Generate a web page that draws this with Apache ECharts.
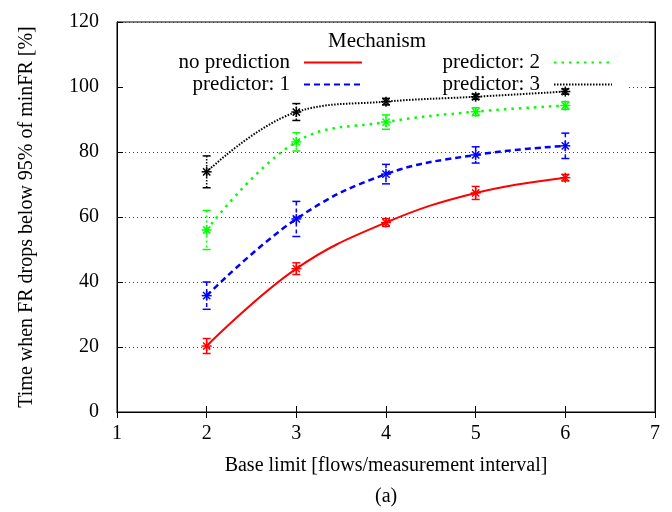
<!DOCTYPE html>
<html>
<head>
<meta charset="utf-8">
<script src="https://cdn.jsdelivr.net/npm/echarts@6/dist/echarts.min.js"></script>
<style>
  html, body { margin: 0; padding: 0; background: #fff; }
  #chart { width: 672px; height: 512px; }
</style>
</head>
<body>
<div id="chart"></div>
<script>
// base limit values on the x axis
var baseLimit = [2, 3, 4, 5, 6];

// mean time (%) per mechanism, and half-length of the error bars
var noPrediction = [20.3, 44.1, 58.3, 67.4, 72.1];
var noPredictionErr = [2.3, 1.8, 1.2, 2.0, 1.0];
var predictor1 = [35.8, 59.4, 73.2, 79.1, 81.9];
var predictor1Err = [4.2, 5.4, 3.0, 2.5, 3.9];
var predictor2 = [56.0, 83.1, 89.2, 92.4, 94.3];
var predictor2Err = [6.0, 2.8, 2.2, 1.2, 1.2];
var predictor3 = [73.9, 92.3, 95.5, 97.0, 98.6];
var predictor3Err = [4.9, 2.6, 1.0, 0.8, 0.8];

var xTicks = [1, 7, 1];     // min, max, step
var yTicks = [0, 120, 20];

var FONT = '"Liberation Serif", "DejaVu Serif", serif';

function pairs(ys) {
  return baseLimit.map(function (x, i) { return [x, ys[i]]; });
}
function triples(ys, es) {
  return baseLimit.map(function (x, i) { return [x, ys[i], es[i]]; });
}

// error bar + "*" marker, gnuplot style
function errRender(color, dash) {
  return function (params, api) {
    var x = api.value(0), y = api.value(1), e = api.value(2);
    var c = api.coord([x, y]);
    var hi = api.coord([x, y + e]);
    var lo = api.coord([x, y - e]);
    var cap = 4, r = 5, d = 3.6;
    var bar = { stroke: color, lineWidth: 1.5, lineDash: dash };
    var mk = { stroke: color, lineWidth: 1.5 };
    return {
      type: 'group',
      children: [
        { type: 'line', shape: { x1: c[0], y1: hi[1], x2: c[0], y2: lo[1] }, style: bar },
        { type: 'line', shape: { x1: c[0] - cap, y1: hi[1], x2: c[0] + cap, y2: hi[1] }, style: mk },
        { type: 'line', shape: { x1: c[0] - cap, y1: lo[1], x2: c[0] + cap, y2: lo[1] }, style: mk },
        { type: 'line', shape: { x1: c[0] - r, y1: c[1], x2: c[0] + r, y2: c[1] }, style: mk },
        { type: 'line', shape: { x1: c[0], y1: c[1] - r, x2: c[0], y2: c[1] + r }, style: mk },
        { type: 'line', shape: { x1: c[0] - d, y1: c[1] - d, x2: c[0] + d, y2: c[1] + d }, style: mk },
        { type: 'line', shape: { x1: c[0] - d, y1: c[1] + d, x2: c[0] + d, y2: c[1] - d }, style: mk }
      ]
    };
  };
}

var chart = echarts.init(document.getElementById('chart'));

var lineSeries = [
  { name: 'no prediction', data: noPrediction, err: noPredictionErr, color: '#ff0000', type: 'solid', dash: null, width: 2 },
  { name: 'predictor: 1', data: predictor1, err: predictor1Err, color: '#0000ff', type: [6, 4], dash: [4, 3], width: 2.5 },
  { name: 'predictor: 2', data: predictor2, err: predictor2Err, color: '#00ff00', type: [2.5, 5], dash: [2, 3], width: 2.5 },
  { name: 'predictor: 3', data: predictor3, err: predictor3Err, color: '#000000', type: [1.5, 1.5], dash: [1.5, 1.5], width: 2 }
];

var series = [];
lineSeries.forEach(function (s) {
  series.push({
    name: s.name,
    type: 'line',
    data: pairs(s.data),
    symbol: 'none',
    smooth: 0.4,
    color: s.color,
    lineStyle: { color: s.color, width: s.width, type: s.type },
    z: 3
  });
});
lineSeries.forEach(function (s) {
  series.push({
    type: 'custom',
    data: triples(s.data, s.err),
    renderItem: errRender(s.color, s.dash),
    encode: { x: 0, y: 1 },
    z: 4
  });
});

var legendBase = {
  orient: 'vertical',
  align: 'right',
  top: 52,
  padding: 0,
  itemWidth: 58,
  itemHeight: 14,
  itemGap: 1,
  selectedMode: false,
  itemStyle: { opacity: 0 },
  textStyle: { fontFamily: FONT, fontSize: 21, color: '#000', lineHeight: 21, padding: [0, 9, 0, 0] }
};

var option = {
  animation: false,
  backgroundColor: '#fff',
  grid: {
    left: 117, right: 17, top: 22, bottom: 100,
    show: true, borderColor: '#000', borderWidth: 1, backgroundColor: 'transparent'
  },
  legend: [
    Object.assign({}, legendBase, { data: ['no prediction', 'predictor: 1'], right: 309 }),
    Object.assign({}, legendBase, { data: ['predictor: 2', 'predictor: 3'], right: 59 })
  ],
  xAxis: [{
    type: 'value',
    min: xTicks[0], max: xTicks[1], interval: xTicks[2],
    name: 'Base limit [flows/measurement interval]',
    nameLocation: 'middle',
    nameGap: 44,
    nameTextStyle: { fontFamily: FONT, fontSize: 20, color: '#000' },
    axisLine: { show: true, lineStyle: { color: '#000', width: 1 } },
    axisTick: { show: true, inside: true, length: 6, lineStyle: { color: '#000' } },
    axisLabel: { fontFamily: FONT, fontSize: 20, color: '#000', margin: 12 },
    splitLine: { show: false }
  }, {
    type: 'value', position: 'top',
    min: xTicks[0], max: xTicks[1], interval: xTicks[2],
    axisLine: { show: true, lineStyle: { color: '#000', width: 1 } },
    axisTick: { show: true, inside: true, length: 6, lineStyle: { color: '#000' } },
    axisLabel: { show: false },
    splitLine: { show: false }
  }],
  yAxis: [{
    type: 'value',
    min: yTicks[0], max: yTicks[1], interval: yTicks[2],
    name: 'Time when FR drops below 95% of minFR [%]',
    nameLocation: 'middle',
    nameGap: 80,
    nameTextStyle: { fontFamily: FONT, fontSize: 20, color: '#000' },
    axisLine: { show: true, lineStyle: { color: '#000', width: 1 } },
    axisTick: { show: true, inside: true, length: 6, lineStyle: { color: '#000' } },
    axisLabel: { fontFamily: FONT, fontSize: 20, color: '#000', margin: 18 },
    splitLine: { show: true, lineStyle: { color: '#444', width: 1, type: [1, 3] } }
  }, {
    type: 'value', position: 'right',
    min: yTicks[0], max: yTicks[1], interval: yTicks[2],
    axisLine: { show: true, lineStyle: { color: '#000', width: 1 } },
    axisTick: { show: true, inside: true, length: 6, lineStyle: { color: '#000' } },
    axisLabel: { show: false },
    splitLine: { show: false }
  }],
  graphic: [
    // opaque key box, hides the grid line behind the legend
    { type: 'rect', left: 124, top: 30, shape: { width: 504, height: 63 }, style: { fill: '#fff' }, z: 1, silent: true },
    { type: 'text', left: 328, top: 31, style: { text: 'Mechanism', fill: '#000', font: '21px ' + FONT }, z: 5 },
    { type: 'text', left: 375, top: 487, style: { text: '(a)', fill: '#000', font: '20px ' + FONT }, z: 5 }
  ],
  series: series
};

chart.setOption(option);
</script>
</body>
</html>
